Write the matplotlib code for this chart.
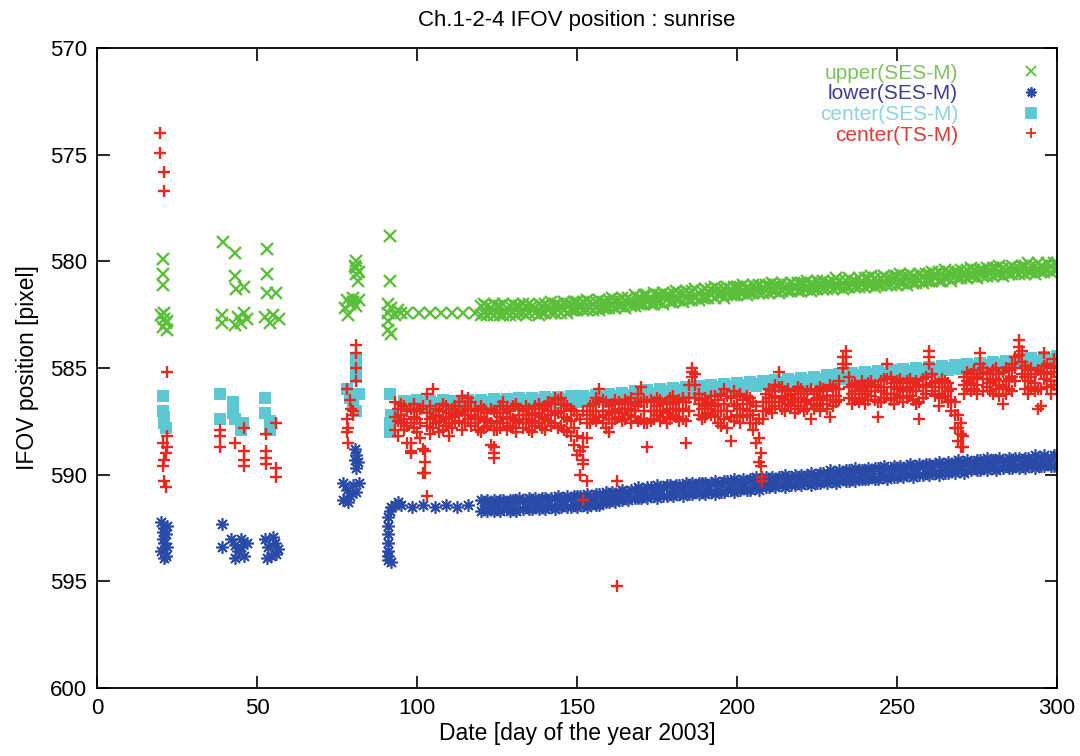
import numpy as np
import matplotlib
matplotlib.use("Agg")
import matplotlib.pyplot as plt

plt.rcParams['font.family'] = ['Liberation Sans', 'DejaVu Sans']

# ---- upper(SES-M) ----
upper_early_day = [20.5, 20.5, 20.5, 20, 21, 21.5, 20.5, 22, 21, 22,
                   39.3, 39, 39,
                   43, 43, 43.5, 46, 44, 45, 46, 47, 43,
                   53, 53, 53, 56, 52.5, 54, 55, 57,
                   81, 81, 81, 81.5, 80.5, 82, 78, 79, 80, 81, 77.5, 78.5, 80, 82,
                   91.6, 91.6, 91, 91, 91, 91, 92, 93, 94, 95, 92,
                   97, 100.5, 104, 107.5, 111, 114.5, 118]
upper_early_val = [579.9, 580.6, 581.1, 582.5, 582.7, 582.9, 583.1, 583.2, 582.4, 582.8,
                   579.1, 582.5, 582.9,
                   579.6, 580.7, 581.3, 581.2, 582.6, 582.9, 582.4, 582.7, 583.0,
                   579.4, 580.6, 581.5, 581.5, 582.6, 582.9, 582.5, 582.7,
                   580.0, 580.3, 580.6, 580.9, 580.2, 580.5, 581.8, 582.0, 581.9, 582.1, 582.2, 582.5, 581.7, 581.8,
                   578.8, 580.9, 582.0, 582.4, 582.8, 583.2, 582.2, 582.5, 582.3, 582.4, 583.4,
                   582.4, 582.4, 582.4, 582.4, 582.4, 582.4, 582.4]
upper_day = list(range(120, 301))
upper_a = [582.1, 582.0, 582.1, 582.2, 582.0, 582.1, 582.1, 582.0, 582.2, 582.1,
           582.0, 582.1, 582.1, 582.0, 582.1, 582.0, 582.1, 582.2, 582.0, 582.1,
           582.0, 582.1, 581.9, 582.0, 582.0, 582.1, 581.9, 582.0, 582.0, 581.9,
           581.9, 582.0, 581.9, 581.8, 581.9, 582.0, 581.9, 581.8, 581.9, 581.9,
           581.8, 581.7, 581.8, 581.8, 581.7, 581.8, 581.7, 581.8, 581.6, 581.7,
           581.7, 581.6, 581.6, 581.7, 581.5, 581.6, 581.6, 581.5, 581.6, 581.6,
           581.5, 581.4, 581.5, 581.5, 581.4, 581.5, 581.4, 581.3, 581.5, 581.4,
           581.3, 581.4, 581.3, 581.2, 581.3, 581.4, 581.3, 581.2, 581.3, 581.2,
           581.2, 581.2, 581.1, 581.2, 581.3, 581.1, 581.2, 581.1, 581.2, 581.1,
           581.1, 581.0, 581.1, 581.1, 581.0, 581.2, 581.1, 581.0, 581.1, 581.0,
           581.0, 581.0, 580.9, 581.0, 581.1, 580.9, 581.0, 580.9, 581.0, 581.0,
           580.9, 580.8, 580.9, 581.0, 580.9, 580.8, 580.9, 580.9, 580.8, 580.9,
           580.8, 580.8, 580.7, 580.8, 580.9, 580.8, 580.7, 580.8, 580.8, 580.7,
           580.7, 580.6, 580.7, 580.7, 580.6, 580.7, 580.8, 580.6, 580.7, 580.6,
           580.6, 580.5, 580.6, 580.5, 580.6, 580.4, 580.5, 580.6, 580.5, 580.5,
           580.4, 580.5, 580.4, 580.3, 580.4, 580.5, 580.4, 580.4, 580.3, 580.4,
           580.3, 580.3, 580.2, 580.3, 580.4, 580.3, 580.2, 580.3, 580.3, 580.2,
           580.2, 580.1, 580.2, 580.2, 580.1, 580.2, 580.3, 580.1, 580.2, 580.1,
           580.1]
upper_b = [582.5, 582.4, 582.5, 582.4, 582.5, 582.4, 582.5, 582.5, 582.4, 582.5,
           582.4, 582.5, 582.4, 582.4, 582.5, 582.4, 582.3, 582.4, 582.5, 582.4,
           582.4, 582.3, 582.4, 582.4, 582.3, 582.4, 582.3, 582.4, 582.3, 582.3,
           582.3, 582.2, 582.3, 582.3, 582.2, 582.3, 582.2, 582.3, 582.2, 582.2,
           582.2, 582.1, 582.2, 582.1, 582.1, 582.2, 582.0, 582.1, 582.1, 582.0,
           582.0, 582.0, 581.9, 582.0, 582.0, 581.9, 581.9, 582.0, 581.8, 581.9,
           581.9, 581.8, 581.8, 581.9, 581.7, 581.8, 581.8, 581.7, 581.8, 581.7,
           581.7, 581.7, 581.6, 581.7, 581.6, 581.6, 581.7, 581.5, 581.6, 581.6,
           581.6, 581.5, 581.5, 581.6, 581.5, 581.5, 581.4, 581.5, 581.5, 581.4,
           581.5, 581.4, 581.4, 581.5, 581.4, 581.3, 581.4, 581.4, 581.3, 581.4,
           581.4, 581.3, 581.3, 581.4, 581.3, 581.3, 581.2, 581.3, 581.3, 581.2,
           581.3, 581.2, 581.2, 581.3, 581.2, 581.2, 581.1, 581.2, 581.2, 581.1,
           581.2, 581.1, 581.1, 581.2, 581.1, 581.1, 581.0, 581.1, 581.1, 581.0,
           581.1, 581.0, 581.0, 581.1, 580.9, 581.0, 581.0, 580.9, 581.0, 580.9,
           580.9, 580.9, 580.8, 580.9, 580.9, 580.8, 580.8, 580.9, 580.7, 580.8,
           580.8, 580.7, 580.8, 580.7, 580.7, 580.8, 580.6, 580.7, 580.7, 580.6,
           580.7, 580.6, 580.6, 580.7, 580.5, 580.6, 580.6, 580.5, 580.6, 580.5,
           580.6, 580.5, 580.5, 580.6, 580.4, 580.5, 580.5, 580.4, 580.5, 580.4,
           580.4]

# ---- lower(SES-M) ----
lower_early_day = [20, 21, 21.5, 20.5, 21, 22, 20, 21.5, 22, 20.5, 21,
                   39, 39, 42, 43, 44, 45, 46, 43, 45, 47,
                   52.5, 53.5, 54.5, 55.5, 56.5, 53, 55, 56,
                   80.5, 81, 81.5, 81, 80.5, 77, 78, 79, 80, 81, 82, 77, 78.5,
                   91, 91, 91, 91, 91, 91, 91.5, 92, 93, 94, 95, 91, 92,
                   98.5, 102, 105.5, 109, 112.5, 116]
lower_early_val = [592.2, 592.5, 592.8, 593.0, 593.2, 593.4, 593.6, 593.8, 592.4, 592.7, 593.9,
                   592.3, 593.4, 593.0, 593.3, 593.6, 593.0, 593.8, 593.9, 593.4, 593.2,
                   593.0, 593.4, 593.8, 593.2, 593.5, 593.9, 592.9, 593.7,
                   588.8, 589.1, 589.4, 589.7, 589.3, 590.4, 590.7, 591.0, 590.5, 590.8, 590.4, 591.2, 591.3,
                   594.0, 593.6, 593.2, 592.8, 592.4, 592.0, 591.7, 591.5, 591.4, 591.3, 591.4, 593.8, 594.1,
                   591.5, 591.4, 591.5, 591.4, 591.5, 591.4]
lower_day = list(range(120, 301))
lower_a = [591.2, 591.3, 591.2, 591.3, 591.2, 591.3, 591.2, 591.2, 591.3, 591.2,
           591.2, 591.2, 591.1, 591.2, 591.2, 591.1, 591.2, 591.1, 591.2, 591.1,
           591.1, 591.2, 591.1, 591.1, 591.0, 591.1, 591.1, 591.0, 591.1, 591.0,
           591.0, 591.0, 591.1, 590.9, 591.0, 591.0, 590.9, 590.9, 591.0, 590.8,
           590.9, 590.8, 590.9, 590.8, 590.7, 590.8, 590.8, 590.7, 590.7, 590.6,
           590.7, 590.7, 590.6, 590.6, 590.7, 590.5, 590.6, 590.6, 590.5, 590.5,
           590.6, 590.5, 590.5, 590.6, 590.4, 590.5, 590.4, 590.5, 590.4, 590.4,
           590.4, 590.5, 590.4, 590.3, 590.4, 590.4, 590.3, 590.3, 590.4, 590.2,
           590.3, 590.3, 590.2, 590.3, 590.2, 590.2, 590.1, 590.2, 590.2, 590.1,
           590.2, 590.1, 590.2, 590.1, 590.1, 590.0, 590.1, 590.1, 590.0, 590.1,
           590.0, 590.1, 590.0, 589.9, 590.0, 590.0, 589.9, 589.9, 590.0, 589.8,
           589.9, 589.9, 589.8, 589.9, 589.8, 589.8, 589.9, 589.7, 589.8, 589.8,
           589.8, 589.7, 589.8, 589.7, 589.7, 589.8, 589.6, 589.7, 589.7, 589.6,
           589.7, 589.6, 589.7, 589.6, 589.5, 589.6, 589.6, 589.5, 589.6, 589.5,
           589.5, 589.6, 589.5, 589.4, 589.5, 589.5, 589.4, 589.5, 589.4, 589.3,
           589.4, 589.4, 589.3, 589.4, 589.4, 589.3, 589.3, 589.4, 589.2, 589.3,
           589.3, 589.3, 589.2, 589.3, 589.3, 589.2, 589.3, 589.2, 589.2, 589.3,
           589.2, 589.2, 589.3, 589.1, 589.2, 589.2, 589.1, 589.2, 589.2, 589.1,
           589.1]
lower_b = [591.7, 591.6, 591.7, 591.6, 591.7, 591.6, 591.7, 591.6, 591.6, 591.7,
           591.6, 591.7, 591.6, 591.6, 591.5, 591.6, 591.6, 591.5, 591.6, 591.5,
           591.6, 591.5, 591.5, 591.6, 591.5, 591.5, 591.4, 591.5, 591.5, 591.4,
           591.5, 591.4, 591.4, 591.5, 591.4, 591.3, 591.4, 591.4, 591.3, 591.3,
           591.3, 591.2, 591.3, 591.2, 591.2, 591.1, 591.2, 591.1, 591.1, 591.1,
           591.1, 591.0, 591.1, 591.0, 591.0, 591.1, 590.9, 591.0, 591.0, 590.9,
           591.0, 590.9, 590.9, 591.0, 590.8, 590.9, 590.9, 590.8, 590.9, 590.8,
           590.9, 590.8, 590.8, 590.9, 590.7, 590.8, 590.8, 590.7, 590.7, 590.8,
           590.7, 590.7, 590.6, 590.7, 590.7, 590.6, 590.6, 590.7, 590.5, 590.6,
           590.6, 590.5, 590.6, 590.5, 590.5, 590.6, 590.4, 590.5, 590.5, 590.4,
           590.5, 590.4, 590.4, 590.5, 590.3, 590.4, 590.4, 590.3, 590.4, 590.3,
           590.3, 590.4, 590.3, 590.2, 590.3, 590.3, 590.2, 590.3, 590.2, 590.2,
           590.2, 590.2, 590.1, 590.2, 590.2, 590.1, 590.1, 590.2, 590.0, 590.1,
           590.1, 590.0, 590.1, 590.0, 590.0, 590.1, 589.9, 590.0, 590.0, 589.9,
           590.0, 589.9, 589.9, 590.0, 589.8, 589.9, 589.9, 589.8, 589.9, 589.8,
           589.8, 589.9, 589.8, 589.8, 589.7, 589.8, 589.8, 589.7, 589.8, 589.7,
           589.7, 589.8, 589.7, 589.7, 589.6, 589.7, 589.7, 589.6, 589.7, 589.6,
           589.7, 589.6, 589.6, 589.7, 589.5, 589.6, 589.6, 589.5, 589.6, 589.6,
           589.5]

# ---- center(SES-M) ----
cses_early_day = [20.5, 20.5, 21, 21, 21.5,
                  38.4, 38.4, 42.6, 42.6, 45.7, 45, 43,
                  52.5, 52.5, 54, 54,
                  81, 81, 81, 78, 79, 80, 81, 82,
                  91.6, 91.6, 91.6, 92]
cses_early_val = [586.3, 587.0, 587.3, 587.6, 587.8,
                  586.2, 587.4, 586.6, 587.1, 587.6, 587.9, 587.4,
                  586.4, 587.1, 587.9, 587.5,
                  584.6, 585.0, 585.4, 586.0, 586.4, 586.8, 587.0, 586.2,
                  586.2, 587.6, 588.0, 587.2]
cses_day = list(range(96, 301, 2))
cses_val = [586.55, 586.85, 586.5, 586.8, 586.55,
            586.85, 586.5, 586.8, 586.55, 586.85,
            586.5, 586.8, 586.5, 586.8, 586.45,
            586.75, 586.45, 586.75, 586.4, 586.7,
            586.4, 586.7, 586.35, 586.65, 586.35,
            586.65, 586.3, 586.6, 586.3, 586.55,
            586.25, 586.5, 586.2, 586.45, 586.15,
            586.4, 586.1, 586.35, 586.05, 586.3,
            586.0, 586.25, 585.95, 586.2, 585.9,
            586.1, 585.85, 586.05, 585.8, 586.0,
            585.75, 585.95, 585.7, 585.9, 585.65,
            585.85, 585.6, 585.8, 585.55, 585.75,
            585.5, 585.7, 585.45, 585.65, 585.4,
            585.6, 585.35, 585.55, 585.3, 585.5,
            585.25, 585.45, 585.2, 585.4, 585.15,
            585.35, 585.1, 585.3, 585.05, 585.25,
            585.0, 585.2, 584.95, 585.15, 584.9,
            585.1, 584.85, 585.05, 584.8, 585.0,
            584.75, 584.95, 584.7, 584.9, 584.65,
            584.85, 584.6, 584.8, 584.55, 584.75,
            584.5, 584.7, 584.45]
cses_day2 = list(range(97, 300, 2))
cses_val2 = [586.7, 586.6, 586.75, 586.6, 586.7,
             586.65, 586.7, 586.6, 586.7, 586.65,
             586.6, 586.7, 586.6, 586.65, 586.55,
             586.6, 586.55, 586.6, 586.5, 586.55,
             586.5, 586.55, 586.45, 586.5, 586.45,
             586.5, 586.4, 586.45, 586.4, 586.4,
             586.35, 586.4, 586.3, 586.35, 586.25,
             586.3, 586.2, 586.25, 586.15, 586.2,
             586.1, 586.15, 586.05, 586.1, 586.0,
             586.0, 585.95, 585.95, 585.9, 585.9,
             585.85, 585.85, 585.8, 585.8, 585.75,
             585.75, 585.7, 585.7, 585.65, 585.65,
             585.6, 585.6, 585.55, 585.55, 585.5,
             585.5, 585.45, 585.45, 585.4, 585.4,
             585.35, 585.35, 585.3, 585.3, 585.25,
             585.25, 585.2, 585.2, 585.15, 585.15,
             585.1, 585.1, 585.05, 585.05, 585.0,
             585.0, 584.95, 584.95, 584.9, 584.9,
             584.85, 584.85, 584.8, 584.8, 584.75,
             584.75, 584.7, 584.7, 584.65, 584.65,
             584.6, 584.6]

# ---- center(TS-M) ----
tsm_early_day = [19.8, 19.8, 20.8, 20.8, 21.8,
                 21.8, 20.5, 21.5, 21, 20.5, 21, 21.5, 22,
                 38.4, 38.4, 38.4, 43, 46, 46, 46, 46,
                 52.8, 52.8, 52.8, 52.8, 56, 56, 56,
                 81, 81, 81, 81, 78, 79, 80, 78, 78.5, 78, 78.5, 80, 79.5,
                 98, 98, 102.6, 102.6, 102.6, 103, 124, 124,
                 152, 152, 153, 152, 162.5, 162.5,
                 207.5, 207.5, 207.8, 207.8, 270.5, 270.5]
tsm_early_val = [574.0, 574.9, 575.8, 576.7, 585.2,
                 588.2, 588.5, 589.0, 589.3, 589.6, 590.3, 590.6, 588.7,
                 587.9, 588.2, 588.7, 588.5, 587.8, 588.9, 589.3, 589.6,
                 588.1, 588.9, 589.2, 589.5, 587.6, 589.7, 590.1,
                 583.9, 584.3, 585.0, 585.6, 586.0, 586.5, 587.0, 587.4, 587.8, 588.0, 588.5, 587.2, 586.9,
                 588.5, 589.0, 588.9, 589.4, 589.9, 591.0, 588.7, 589.2,
                 588.7, 589.3, 590.3, 591.2, 590.3, 595.2,
                 589.0, 589.6, 590.1, 590.3, 588.2, 588.7]
tsm_day = list(range(93, 301))
tsm_a = [586.6, 586.9, 586.7, 586.8, 587.0, 586.9, 586.7, 587.0, 586.9, 586.8,
         586.2, 586.8, 586.0, 586.9, 587.0, 586.7, 586.8, 587.1, 586.9, 586.8,
         586.6, 586.3, 586.8, 586.4, 586.6, 586.9, 587.0, 586.8, 586.9, 587.1,
         586.9, 587.0, 587.1, 586.8, 586.6, 586.9, 587.0, 586.8, 586.7, 586.9,
         587.0, 586.8, 586.9, 587.1, 586.8, 586.7, 586.9, 586.8, 586.6, 586.7,
         586.4, 586.5, 586.4, 586.7, 586.8, 586.9, 587.0, 587.2, 587.4, 587.0,
         587.0, 586.8, 586.7, 586.4, 586.0, 586.5, 586.6, 586.8, 586.7, 586.5,
         586.6, 586.7, 586.5, 586.6, 586.4, 586.7, 586.2, 585.9, 586.5, 586.6,
         586.5, 586.6, 586.4, 586.5, 586.7, 586.6, 586.4, 586.3, 586.6, 586.5,
         586.4, 586.6, 585.8, 585.0, 585.3, 586.2, 586.5, 586.4, 586.6, 586.3,
         586.3, 586.5, 586.2, 586.0, 586.3, 586.4, 586.1, 586.3, 586.2, 586.5,
         586.3, 586.4, 586.6, 586.8, 587.4, 586.6, 586.2, 586.0, 586.1, 585.8,
         585.2, 585.9, 586.1, 586.0, 586.2, 586.1, 585.9, 586.0, 586.2, 586.1,
         586.0, 586.2, 586.1, 585.9, 586.0, 586.1, 585.8, 585.9, 586.0, 585.6,
         584.5, 584.2, 585.4, 585.8, 585.7, 585.9, 585.6, 585.8, 585.7, 585.6,
         585.8, 585.9, 585.6, 585.5, 584.8, 585.4, 585.7, 585.6, 585.5, 585.7,
         585.6, 585.5, 585.7, 585.6, 585.8, 585.5, 585.4, 584.2, 585.3, 585.6,
         585.7, 585.5, 585.6, 585.7, 586.0, 586.6, 587.2, 587.6, 585.4, 585.2,
         585.3, 585.1, 585.4, 584.3, 585.0, 585.2, 585.3, 585.1, 585.0, 585.3,
         585.2, 585.0, 585.1, 584.8, 584.5, 583.7, 584.2, 584.9, 585.1, 585.0,
         585.3, 585.1, 585.2, 584.3, 584.8, 585.0, 584.6, 584.9]
tsm_b = [587.9, 588.2, 587.6, 587.9, 588.5, 588.9, 587.8, 588.0, 588.3, 589.9,
         587.7, 588.1, 587.8, 587.6, 588.0, 587.9, 587.7, 588.2, 587.8, 587.6,
         587.5, 587.9, 587.6, 587.4, 587.7, 587.6, 587.9, 588.0, 587.8, 587.7,
         588.6, 589.0, 587.9, 587.8, 587.6, 587.9, 587.7, 587.8, 588.0, 587.6,
         587.8, 587.6, 587.9, 588.0, 587.7, 587.6, 587.8, 587.9, 587.5, 587.7,
         587.6, 587.8, 587.7, 587.9, 588.0, 588.2, 588.6, 589.1, 590.0, 589.5,
         588.3, 587.6, 587.4, 587.5, 587.3, 587.6, 587.8, 588.0, 587.6, 587.4,
         587.3, 587.5, 587.4, 587.2, 587.6, 587.3, 587.5, 587.4, 587.6, 588.7,
         587.5, 587.4, 587.2, 587.5, 587.3, 587.6, 587.4, 587.2, 587.3, 587.5,
         587.4, 588.5, 587.0, 585.4, 586.4, 587.2, 587.4, 587.3, 587.1, 587.2,
         587.3, 587.6, 587.7, 587.4, 587.8, 588.4, 587.5, 587.2, 587.6, 587.3,
         587.2, 587.6, 587.9, 588.5, 589.4, 587.4, 587.0, 586.9, 587.1, 586.8,
         586.6, 586.9, 587.0, 586.7, 586.8, 587.1, 586.9, 586.8, 587.0, 586.9,
         587.4, 586.9, 586.8, 587.0, 586.7, 586.9, 587.3, 586.8, 586.6, 586.5,
         585.0, 584.8, 586.4, 586.7, 586.5, 586.6, 586.4, 586.7, 586.5, 586.3,
         586.5, 587.3, 586.6, 586.4, 586.2, 586.5, 586.7, 586.4, 586.3, 586.6,
         586.4, 586.3, 586.5, 586.7, 587.4, 586.4, 586.2, 584.8, 586.1, 586.3,
         586.8, 586.4, 586.3, 586.6, 587.0, 587.8, 588.4, 588.7, 586.2, 586.0,
         586.1, 586.0, 586.2, 585.3, 586.1, 585.9, 586.1, 586.2, 586.0, 586.3,
         586.7, 586.2, 586.0, 586.1, 585.6, 584.4, 585.3, 586.0, 586.2, 585.9,
         586.1, 586.9, 586.8, 585.5, 585.9, 586.2, 585.8, 586.0]
tsm_c = [587.3, 587.5, 587.2, 587.4, 587.7, 587.6, 587.3, 587.4, 587.6, 588.8,
         587.1, 587.4, 587.3, 587.2, 587.5, 587.3, 587.4, 587.6, 587.3, 587.2,
         587.1, 587.0, 587.2, 586.9, 587.2, 587.3, 587.4, 587.3, 587.5, 587.4,
         587.6, 587.9, 587.5, 587.3, 587.1, 587.4, 587.3, 587.4, 587.5, 587.2,
         587.4, 587.2, 587.4, 587.5, 587.2, 587.1, 587.3, 587.4, 587.0, 587.2,
         587.0, 587.1, 587.0, 587.3, 587.4, 587.5, 587.8, 588.2, 588.9, 588.3,
         587.6, 587.2, 587.0, 587.0, 586.6, 587.0, 587.2, 587.4, 587.1, 587.0,
         586.9, 587.1, 586.9, 586.9, 587.0, 587.0, 586.8, 586.6, 587.0, 587.6,
         587.0, 587.0, 586.8, 587.0, 587.0, 587.1, 586.9, 586.7, 586.9, 587.0,
         586.9, 587.5, 586.4, 585.2, 585.8, 586.7, 586.9, 586.8, 586.9, 586.7,
         586.8, 587.0, 587.0, 586.7, 587.0, 587.3, 586.8, 586.7, 586.9, 586.9,
         586.7, 587.0, 587.2, 587.6, 588.3, 587.0, 586.6, 586.4, 586.6, 586.3,
         585.9, 586.4, 586.5, 586.3, 586.5, 586.6, 586.4, 586.4, 586.6, 586.5,
         586.7, 586.5, 586.4, 586.4, 586.3, 586.5, 586.5, 586.3, 586.3, 586.0,
         584.8, 584.5, 585.9, 586.2, 586.1, 586.2, 586.0, 586.2, 586.1, 585.9,
         586.1, 586.6, 586.1, 585.9, 585.5, 585.9, 586.2, 586.0, 585.9, 586.1,
         586.0, 585.9, 586.1, 586.1, 586.6, 585.9, 585.8, 584.5, 585.7, 585.9,
         586.2, 585.9, 585.9, 586.1, 586.5, 587.2, 587.8, 588.1, 585.8, 585.6,
         585.7, 585.5, 585.8, 584.8, 585.5, 585.5, 585.7, 585.6, 585.5, 585.8,
         585.9, 585.6, 585.5, 585.4, 585.0, 584.0, 584.7, 585.4, 585.6, 585.4,
         585.7, 586.0, 586.0, 584.9, 585.3, 585.6, 585.2, 585.4]

green = '#5cbf3c'
blue = '#2a4aa8'
cyan = '#5cc8d4'
red = '#e8281e'

fig = plt.figure(figsize=(10.8, 7.56), dpi=100)
ax = fig.add_axes([0.0898, 0.0899, 0.8889, 0.8466])

ax.plot(upper_early_day + upper_day + upper_day, upper_early_val + upper_a + upper_b,
        ls='none', marker='x', ms=8, mew=1.7, color=green, label='upper(SES-M)')
ax.plot(lower_early_day + lower_day + lower_day, lower_early_val + lower_a + lower_b,
        ls='none', marker=(8, 2, 0), ms=9, mew=1.2, color=blue, label='lower(SES-M)')
ax.plot(cses_early_day + cses_day + cses_day2, cses_early_val + cses_val + cses_val2,
        ls='none', marker='s', ms=8, mew=0, color=cyan, label='center(SES-M)')
ax.plot(tsm_early_day + tsm_day + tsm_day + tsm_day, tsm_early_val + tsm_a + tsm_b + tsm_c,
        ls='none', marker='+', ms=8.5, mew=1.7, color=red, label='center(TS-M)')

ax.set_xlim(0, 300)
ax.set_ylim(600, 570)
ax.set_xticks([0, 50, 100, 150, 200, 250, 300])
ax.set_yticks([570, 575, 580, 585, 590, 595, 600])
ax.tick_params(direction='in', length=9, width=1.2, top=True, right=True,
               labelsize=16, pad=7)
for s in ax.spines.values():
    s.set_linewidth(1.3)

ax.set_xlabel('Date [day of the year 2003]', fontsize=16.5, labelpad=2)
ax.set_ylabel('IFOV position [pixel]', fontsize=16.5, labelpad=8)
ax.set_title('Ch.1-2-4 IFOV position : sunrise', fontsize=16, pad=16)

leg = ax.legend(loc='upper right', frameon=False, markerfirst=False,
                fontsize=15, handlelength=1.0, handletextpad=3.0,
                labelspacing=0.08, borderaxespad=0.35)
for h in leg.legend_handles:
    h.set_markersize(7.5)
    h.set_markeredgewidth(1.3)
leg_colors = ['#7ec25c', '#3c3c9a', '#8fd3dc', '#dc3c32']
for t, c in zip(leg.get_texts(), leg_colors):
    t.set_color(c)

fig.savefig('out.png', dpi=100)
